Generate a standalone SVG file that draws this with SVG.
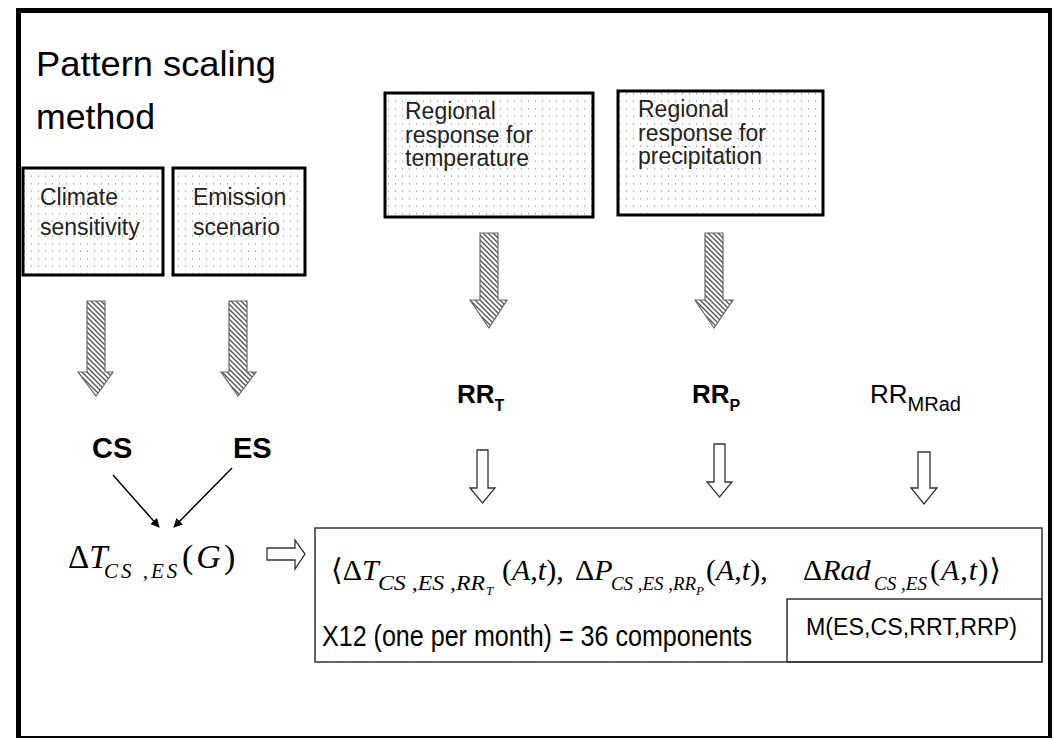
<svg xmlns="http://www.w3.org/2000/svg" width="1057" height="740" viewBox="0 0 1057 740">
<defs>
<pattern id="dots" width="7" height="7.5" patternUnits="userSpaceOnUse">
<rect width="7" height="7.5" fill="#fff"/>
<circle cx="3.5" cy="3.7" r="0.7" fill="#888"/>
</pattern>
<pattern id="hatch" width="5" height="5" patternUnits="userSpaceOnUse">
<rect width="5" height="5" fill="#fff"/>
<path d="M-1,-1 L6,6 M-1,4 L1,6 M4,-1 L6,1" stroke="#555" stroke-width="1.4"/>
</pattern>
<marker id="ah" viewBox="0 0 10 10" refX="9" refY="5" markerWidth="9" markerHeight="9" markerUnits="userSpaceOnUse" orient="auto">
<path d="M0,0 L10,5 L0,10 z" fill="#000"/>
</marker>
<style>
.sans{font-family:"Liberation Sans",Arial,sans-serif;fill:#000}
.lbl{font-size:23px;fill:#222}
.bold{font-weight:bold}
.m{font-family:"Liberation Serif","DejaVu Serif",serif;fill:#000}
.it{font-style:italic}
.dbox{fill:url(#dots);stroke:#000;stroke-width:3}
.harrow{fill:url(#hatch);stroke:#666;stroke-width:1.2}
.oarrow{fill:#fff;stroke:#333;stroke-width:1.3}
.thin{stroke:#000;stroke-width:1.5;fill:none}
.frame{fill:none;stroke:#000}
</style>
</defs>
<rect width="1057" height="740" fill="#fff"/>
<g id="frame">
<line class="frame" x1="16" y1="10.5" x2="1052" y2="10.5" stroke-width="5"/>
<line class="frame" x1="18.5" y1="8" x2="18.5" y2="738" stroke-width="5"/>
<line class="frame" x1="1050" y1="8" x2="1050" y2="738" stroke-width="4"/>
<line class="frame" x1="16" y1="737" x2="1052" y2="737" stroke-width="2"/>
</g>
<g id="title">
<text class="sans" x="36" y="76" font-size="35" textLength="240" lengthAdjust="spacingAndGlyphs">Pattern scaling</text>
<text class="sans" x="36" y="129" font-size="35" textLength="119" lengthAdjust="spacingAndGlyphs">method</text>
</g>
<g id="climate-sensitivity">
<rect class="dbox" x="23" y="168" width="140" height="107"/>
<text class="sans lbl" x="40" y="205">Climate</text>
<text class="sans lbl" x="40" y="235">sensitivity</text>
</g>
<g id="emission-scenario">
<rect class="dbox" x="173" y="168" width="132" height="107"/>
<text class="sans lbl" x="193" y="205">Emission</text>
<text class="sans lbl" x="193" y="235">scenario</text>
</g>
<g id="regional-temperature">
<rect class="dbox" x="385" y="93" width="208" height="124"/>
<text class="sans lbl" x="405" y="119">Regional</text>
<text class="sans lbl" x="405" y="143">response for</text>
<text class="sans lbl" x="405" y="166">temperature</text>
</g>
<g id="regional-precipitation">
<rect class="dbox" x="618" y="91" width="205" height="124"/>
<text class="sans lbl" x="638" y="117">Regional</text>
<text class="sans lbl" x="638" y="141">response for</text>
<text class="sans lbl" x="638" y="164">precipitation</text>
</g>
<g id="cs"><text class="sans bold" x="92" y="458" font-size="29">CS</text></g>
<g id="es"><text class="sans bold" x="233" y="458" font-size="29">ES</text></g>
<g id="rrt"><text class="sans bold" x="457" y="403" font-size="26">RR<tspan font-size="16" dy="8">T</tspan></text></g>
<g id="rrp"><text class="sans bold" x="692" y="403" font-size="26">RR<tspan font-size="16" dy="8">P</tspan></text></g>
<g id="rrmrad"><text class="sans" x="870" y="403" font-size="26">RR<tspan font-size="20" dy="8">MRad</tspan></text></g>
<g id="delta-t-global">
<text class="m" x="68" y="568" font-size="33">Δ<tspan class="it">T</tspan></text>
<text class="m it" x="104" y="578" font-size="21" letter-spacing="3">CS ,ES</text>
<text class="m" x="182" y="568" font-size="34" letter-spacing="3">(<tspan class="it">G</tspan>)</text>
</g>
<g id="output-box">
<rect x="315" y="528" width="727" height="134" fill="none" stroke="#333" stroke-width="1.5"/>
<rect x="787" y="599" width="255" height="63" fill="none" stroke="#333" stroke-width="1.5"/>
<text class="m" x="331" y="580" font-size="30">⟨Δ<tspan class="it">T</tspan></text>
<text class="m it" x="378" y="590" font-size="20" textLength="107" lengthAdjust="spacingAndGlyphs">CS ,ES ,RR</text>
<text class="m it" x="486" y="595" font-size="13">T</text>
<text class="m" x="502" y="580" font-size="30">(<tspan class="it">A</tspan>,<tspan class="it">t</tspan>),</text>
<text class="m" x="575" y="580" font-size="30">Δ<tspan class="it">P</tspan></text>
<text class="m it" x="611" y="590" font-size="19" textLength="85" lengthAdjust="spacingAndGlyphs">CS ,ES ,RR</text>
<text class="m it" x="696" y="595" font-size="13">P</text>
<text class="m" x="706" y="580" font-size="30">(<tspan class="it">A</tspan>,<tspan class="it">t</tspan>),</text>
<text class="m" x="803" y="580" font-size="30">Δ<tspan class="it">Rad</tspan></text>
<text class="m it" x="874" y="590" font-size="19" textLength="53" lengthAdjust="spacingAndGlyphs">CS ,ES</text>
<text class="m" x="930" y="580" font-size="30" letter-spacing="1">(<tspan class="it">A</tspan>,<tspan class="it">t</tspan>)⟩</text>
<text class="sans" x="322" y="646" font-size="30" textLength="430" lengthAdjust="spacingAndGlyphs">X12 (one per month) = 36 components</text>
<text class="sans" x="806" y="635" font-size="23" textLength="211" lengthAdjust="spacingAndGlyphs">M(ES,CS,RRT,RRP)</text>
</g>
<g id="connectors">
<polygon class="harrow" points="87,301 105,301 105,372 113,372 96,396 78,372 87,372"/>
<polygon class="harrow" points="229,301 247,301 247,372 256,372 238,396 221,372 229,372"/>
<polygon class="harrow" points="480,233 498,233 498,300 507,300 489,328 470,300 480,300"/>
<polygon class="harrow" points="705,233 723,233 723,300 733,300 714,328 695,300 705,300"/>
<line class="thin" x1="113" y1="475" x2="159" y2="527" marker-end="url(#ah)"/>
<line class="thin" x1="232" y1="468" x2="174" y2="527" marker-end="url(#ah)"/>
<polygon class="oarrow" points="477,450 488,450 488,488 495,488 482.5,503 470,488 477,488"/>
<polygon class="oarrow" points="714,444 725,444 725,482 732,482 719.5,497 707,482 714,482"/>
<polygon class="oarrow" points="918,452 930,452 930,488 937,488 924,504 911,488 918,488"/>
<polygon class="oarrow" points="267,548 295,548 295,540 305,554 295,569 295,560 267,560"/>
</g>
</svg>
